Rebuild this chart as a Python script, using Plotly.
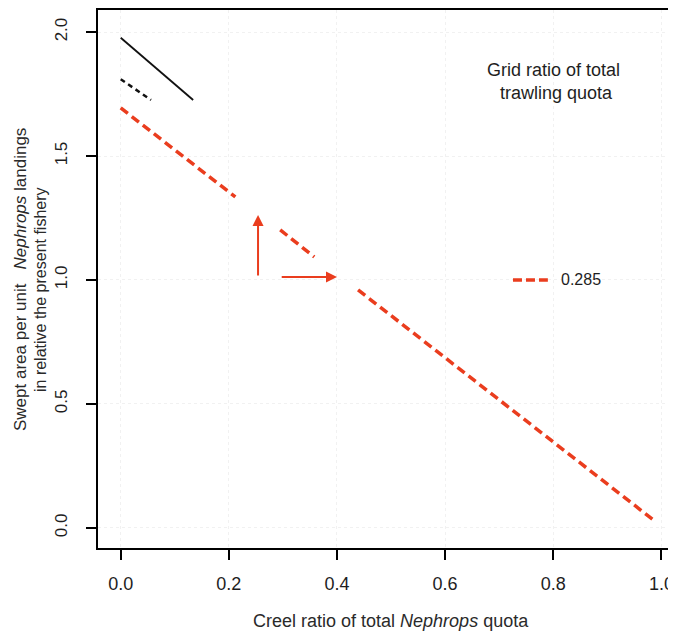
import plotly.graph_objects as go

# Data
red_x = [0.0, 0.212, None, 0.295, 0.358, None, 0.439, 0.99]
red_y = [1.694, 1.335, None, 1.202, 1.093, None, 0.960, 0.024]
solid_x = [0.0, 0.134]
solid_y = [1.977, 1.726]
dash_x = [0.0, 0.056]
dash_y = [1.81, 1.726]
arrow_up = {"x": 0.254, "y0": 1.012, "y1": 1.262}
arrow_right = {"y": 1.012, "x0": 0.295, "x1": 0.40}
legend_line_x = [0.7255, 0.79]
legend_line_y = [1.0, 1.0]
x_ticks = [0.0, 0.2, 0.4, 0.6, 0.8, 1.0]
x_ticklabels = ["0.0", "0.2", "0.4", "0.6", "0.8", "1.0"]
y_ticks = [0.0, 0.5, 1.0, 1.5, 2.0]
y_ticklabels = ["0.0", "0.5", "1.0", "1.5", "2.0"]
legend_title = "Grid ratio of total<br> trawling quota"
legend_label = "0.285"
x_title = "Creel ratio of total <i>Nephrops</i> quota"
y_title_1 = "Swept area per unit\u00a0\u00a0\u00a0<i>Nephrops</i> landings"
y_title_2 = "in relative the present fishery"

RED = "#ea3d1e"
FONT = "Liberation Sans, Arial, sans-serif"
TXT = "#1e1e1e"

# The page body has an 8px margin, so figure pixel = page pixel - 8;
# size the figure so that it ends exactly at the window's right/bottom edges.
OFF = 8
W, H = 676 - OFF, 633 - OFF
ML, MT, MR = 98 - OFF, 10 - OFF, 0
MB = H - (548 - OFF)
PW, PH = W - ML - MR, H - MT - MB


def px_to_paper(px, py):
    """page pixel -> paper coords"""
    fx, fy = px - OFF, py - OFF
    return (fx - ML) / PW, (H - MB - fy) / PH


fig = go.Figure()
fig.add_trace(go.Scatter(x=solid_x, y=solid_y, mode="lines",
                         line=dict(color="#111111", width=1.8), showlegend=False))
fig.add_trace(go.Scatter(x=dash_x, y=dash_y, mode="lines",
                         line=dict(color="#111111", width=2.5, dash="5px,4px"), showlegend=False))
fig.add_trace(go.Scatter(x=red_x, y=red_y, mode="lines", connectgaps=False,
                         line=dict(color=RED, width=3.5, dash="9px,5px"), showlegend=False))
fig.add_trace(go.Scatter(x=legend_line_x, y=legend_line_y, mode="lines",
                         line=dict(color=RED, width=3.5, dash="9px,4px"), showlegend=False))

# arrows
fig.add_annotation(x=arrow_up["x"], y=arrow_up["y1"], ax=arrow_up["x"], ay=arrow_up["y0"],
                   xref="x", yref="y", axref="x", ayref="y", text="", showarrow=True,
                   arrowhead=2, arrowsize=1.1, arrowwidth=2, arrowcolor=RED)
fig.add_annotation(x=arrow_right["x1"], y=arrow_right["y"], ax=arrow_right["x0"], ay=arrow_right["y"],
                   xref="x", yref="y", axref="x", ayref="y", text="", showarrow=True,
                   arrowhead=2, arrowsize=1.1, arrowwidth=2, arrowcolor=RED)

# legend title
lx, ly = px_to_paper(553, 81)
fig.add_annotation(x=lx, y=ly, xref="paper", yref="paper", text=legend_title, showarrow=False,
                   xanchor="center", yanchor="middle",
                   font=dict(family=FONT, size=18, color=TXT))
# legend label
fig.add_annotation(x=0.81, y=1.0, xref="x", yref="y", text=legend_label, showarrow=False,
                   xanchor="left", yanchor="middle", font=dict(family=FONT, size=16, color=TXT))

# y-axis title (two lines)
tx, ty = px_to_paper(20, 280)
fig.add_annotation(x=tx, y=ty, xref="paper", yref="paper", text=y_title_1,
                   showarrow=False, textangle=-90, xanchor="center", yanchor="middle",
                   font=dict(family=FONT, size=17, color="#2a2a2a"))
tx, ty = px_to_paper(40, 290)
fig.add_annotation(x=tx, y=ty, xref="paper", yref="paper", text=y_title_2,
                   showarrow=False, textangle=-90, xanchor="center", yanchor="middle",
                   font=dict(family=FONT, size=16, color="#2a2a2a"))
# x-axis title
tx, ty = px_to_paper(391, 621)
fig.add_annotation(x=tx, y=ty, xref="paper", yref="paper", text=x_title,
                   showarrow=False, xanchor="center", yanchor="middle",
                   font=dict(family=FONT, size=18, color="#2a2a2a"))

fig.update_layout(
    width=W, height=H,
    margin=dict(l=ML, r=MR, t=MT, b=MB, autoexpand=False),
    plot_bgcolor="white", paper_bgcolor="white",
    xaxis=dict(range=[-0.042, 1.027], tickvals=x_ticks, ticktext=x_ticklabels,
               showline=True, linecolor="black", linewidth=2, mirror=True,
               ticks="outside", ticklen=10, tickwidth=1.5, tickcolor="black",
               ticklabelstandoff=8, automargin=False,
               showgrid=True, gridcolor="#f1f1f1", griddash="dot", gridwidth=1,
               zeroline=False,
               tickfont=dict(family=FONT, size=18, color=TXT)),
    yaxis=dict(range=[-0.081, 2.089], tickvals=y_ticks, ticktext=y_ticklabels,
               showline=True, linecolor="black", linewidth=2,
               ticks="outside", ticklen=10, tickwidth=1.5, tickcolor="black",
               tickangle=-90, ticklabelstandoff=12, automargin=False,
               showgrid=True, gridcolor="#f1f1f1", griddash="dot", gridwidth=1,
               zeroline=False,
               tickfont=dict(family=FONT, size=17, color=TXT)),
)

fig.write_html("out.html")
